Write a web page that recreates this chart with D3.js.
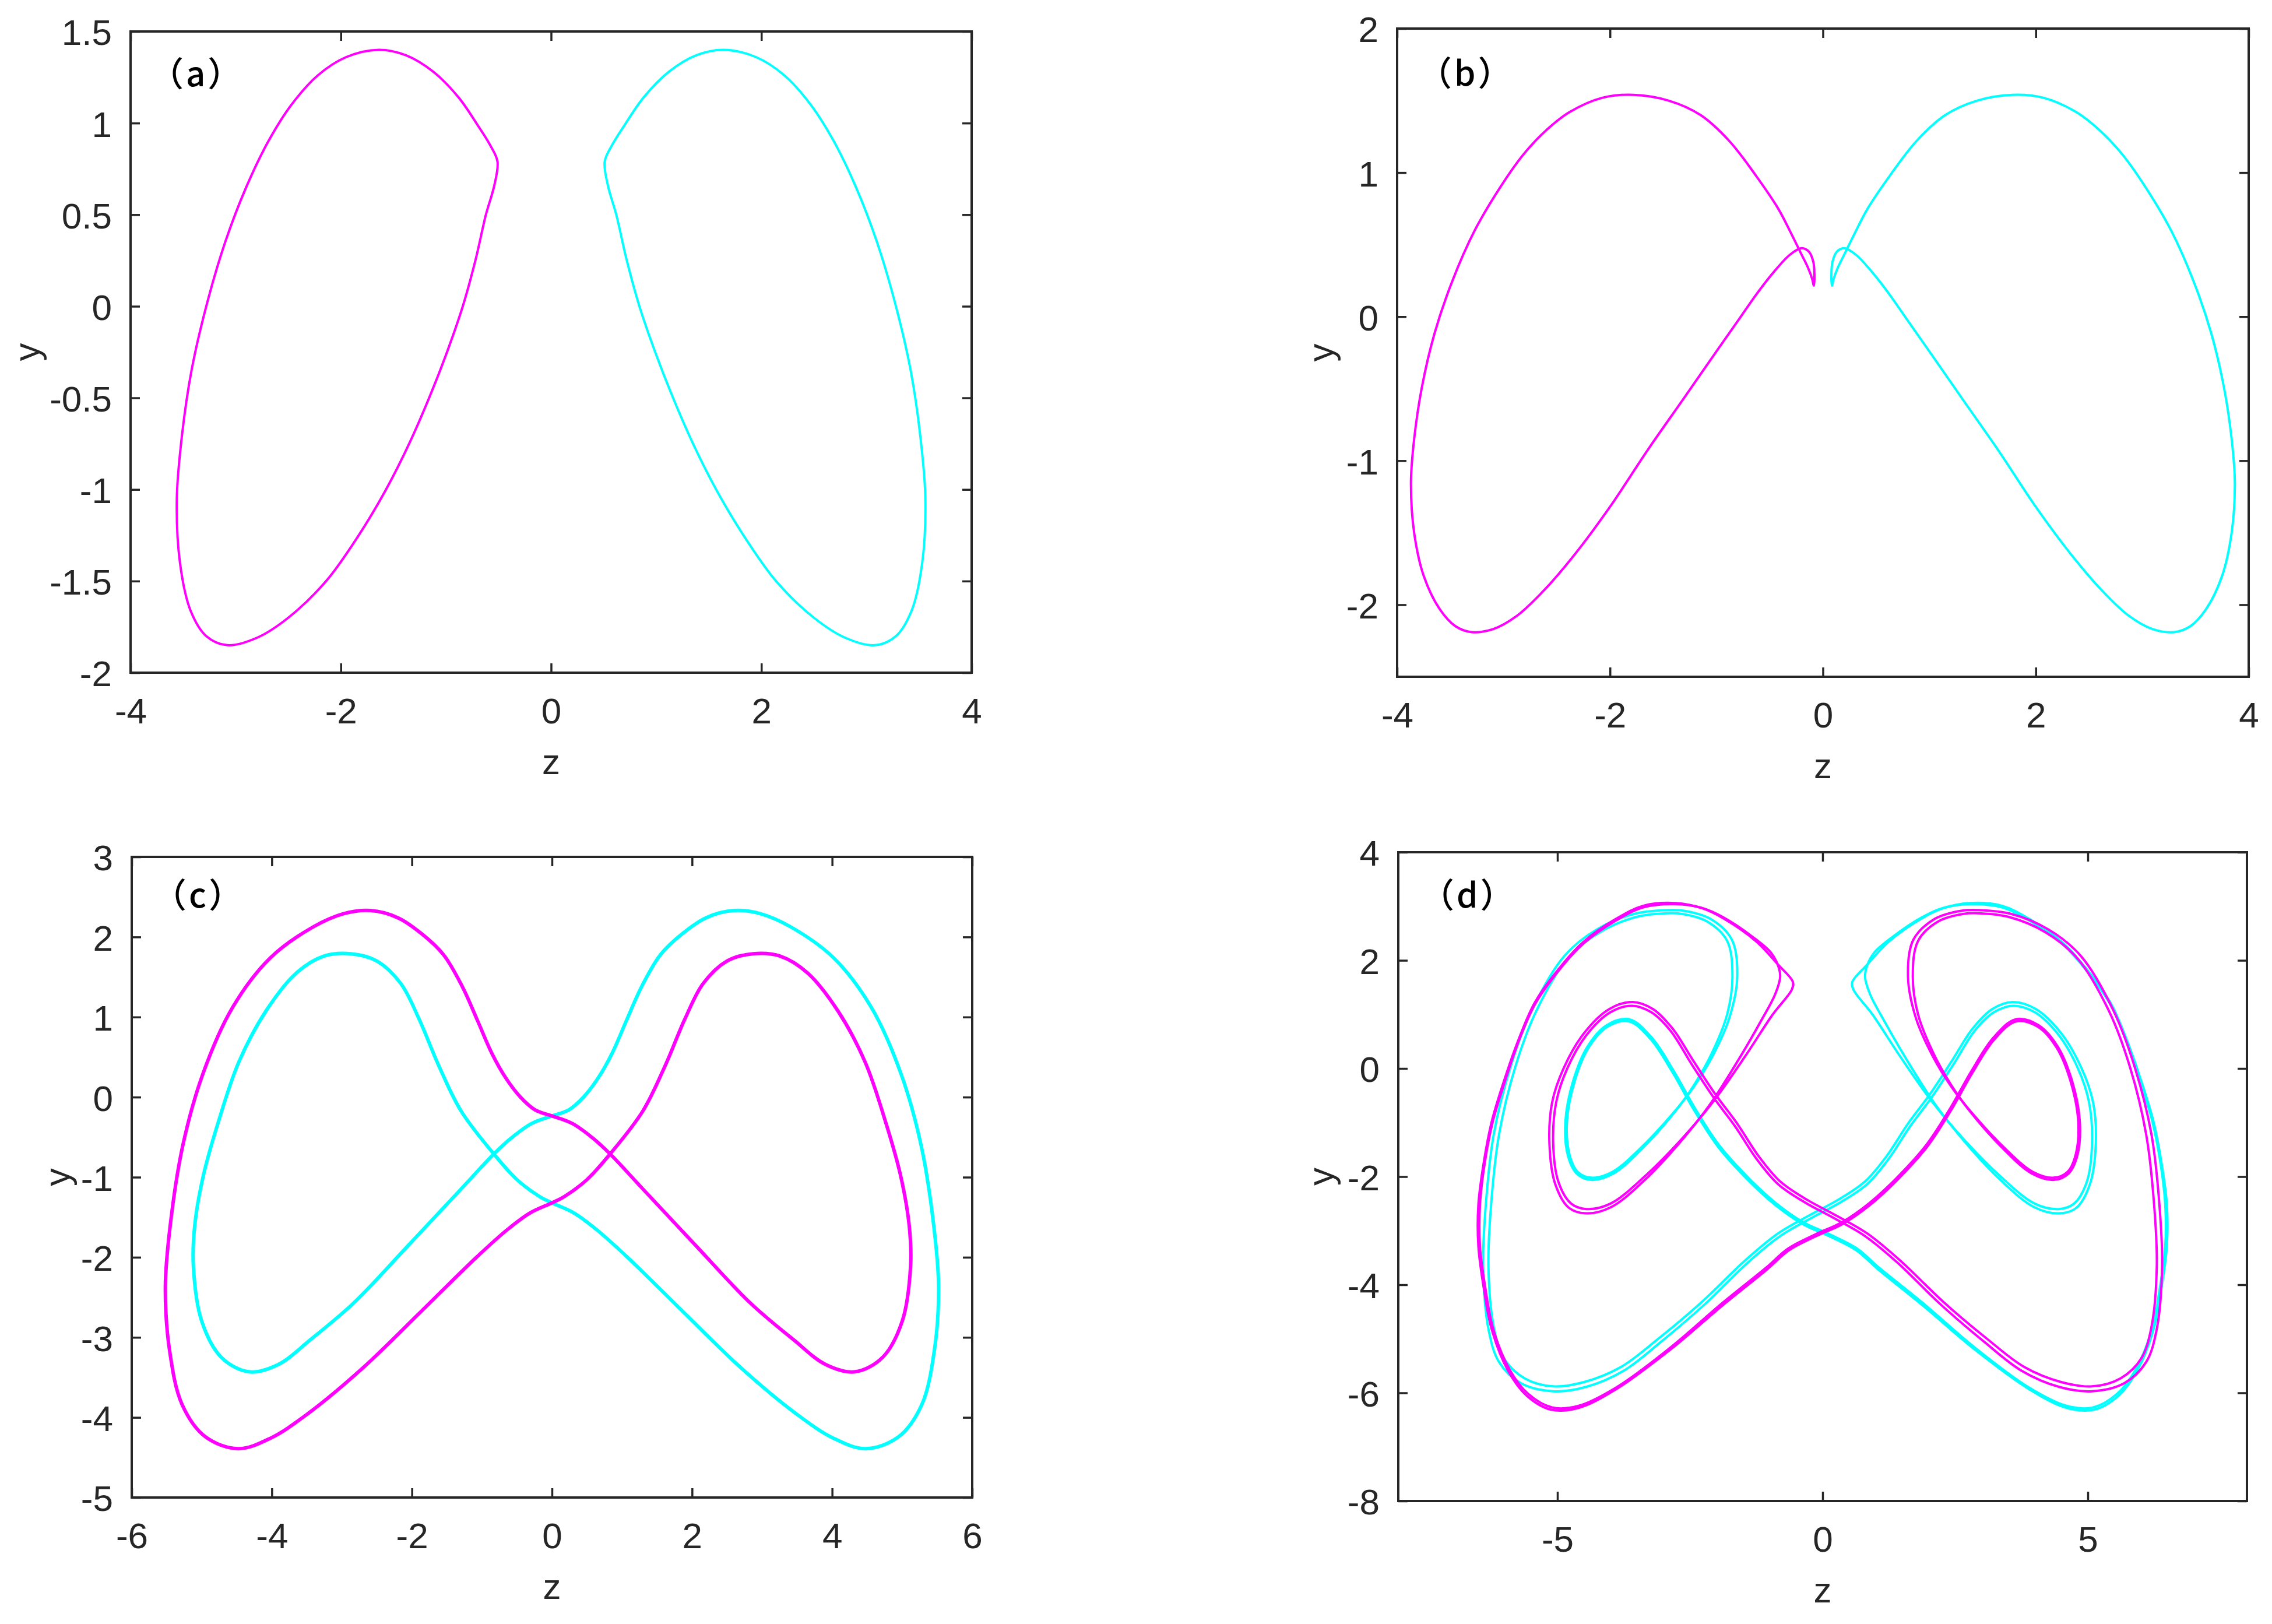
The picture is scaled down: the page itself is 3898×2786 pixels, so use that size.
<!DOCTYPE html>
<html><head><meta charset="utf-8">
<script src="https://cdn.jsdelivr.net/npm/d3@7"></script>
<style>body{margin:0;background:#fff}</style>
</head><body><svg id="c" width="3898" height="2786"></svg>
<script>
// ---------- data (z, y) ----------
const magA = [[-1.64,1.40],[-1.38,1.37],[-1.12,1.28],[-0.88,1.14],[-0.70,0.99],[-0.58,0.88],[-0.51,0.79],[-0.54,0.66],[-0.62,0.50],[-0.72,0.25],[-0.84,0.00],[-0.99,-0.25],[-1.16,-0.50],[-1.35,-0.75],[-1.57,-1.00],[-1.83,-1.25],[-2.14,-1.50],[-2.50,-1.70],[-2.80,-1.81],[-3.08,-1.85],[-3.28,-1.80],[-3.43,-1.66],[-3.53,-1.40],[-3.56,-1.05],[-3.51,-0.70],[-3.42,-0.35],[-3.28,0.00],[-3.10,0.35],[-2.90,0.65],[-2.69,0.90],[-2.47,1.10],[-2.22,1.26],[-1.95,1.36]];
const cyaA = [[1.64,1.40],[1.38,1.37],[1.12,1.28],[0.88,1.14],[0.70,0.99],[0.58,0.88],[0.51,0.79],[0.54,0.66],[0.62,0.50],[0.72,0.25],[0.84,0.00],[0.99,-0.25],[1.16,-0.50],[1.35,-0.75],[1.57,-1.00],[1.83,-1.25],[2.14,-1.50],[2.50,-1.70],[2.80,-1.81],[3.08,-1.85],[3.28,-1.80],[3.43,-1.66],[3.53,-1.40],[3.56,-1.05],[3.51,-0.70],[3.42,-0.35],[3.28,0.00],[3.10,0.35],[2.90,0.65],[2.69,0.90],[2.47,1.10],[2.22,1.26],[1.95,1.36]];

const magB = [[-0.085,0.215],[-0.10,0.26],[-0.14,0.34],[-0.20,0.43],[-0.30,0.58],[-0.42,0.75],[-0.63,0.98],[-0.88,1.22],[-1.15,1.40],[-1.45,1.50],[-1.78,1.54],[-2.07,1.52],[-2.38,1.42],[-2.62,1.28],[-2.82,1.12],[-3.03,0.90],[-3.27,0.60],[-3.48,0.25],[-3.65,-0.12],[-3.77,-0.50],[-3.84,-0.85],[-3.87,-1.15],[-3.84,-1.50],[-3.75,-1.80],[-3.60,-2.03],[-3.45,-2.15],[-3.30,-2.19],[-3.10,-2.17],[-2.88,-2.08],[-2.62,-1.90],[-2.32,-1.64],[-2.00,-1.32],[-1.65,-0.93],[-1.30,-0.56],[-0.99,-0.23],[-0.79,-0.02],[-0.61,0.17],[-0.45,0.32],[-0.31,0.43],[-0.20,0.475],[-0.13,0.45],[-0.09,0.38],[-0.08,0.30]];
const cyaB = [[0.085,0.215],[0.10,0.26],[0.14,0.34],[0.20,0.43],[0.30,0.58],[0.42,0.75],[0.63,0.98],[0.88,1.22],[1.15,1.40],[1.45,1.50],[1.78,1.54],[2.07,1.52],[2.38,1.42],[2.62,1.28],[2.82,1.12],[3.03,0.90],[3.27,0.60],[3.48,0.25],[3.65,-0.12],[3.77,-0.50],[3.84,-0.85],[3.87,-1.15],[3.84,-1.50],[3.75,-1.80],[3.60,-2.03],[3.45,-2.15],[3.30,-2.19],[3.10,-2.17],[2.88,-2.08],[2.62,-1.90],[2.32,-1.64],[2.00,-1.32],[1.65,-0.93],[1.30,-0.56],[0.99,-0.23],[0.79,-0.02],[0.61,0.17],[0.45,0.32],[0.31,0.43],[0.20,0.475],[0.13,0.45],[0.09,0.38],[0.08,0.30]];

const magC = [[-2.59,2.33],[-2.20,2.24],[-1.86,2.04],[-1.55,1.78],[-1.28,1.38],[-1.06,0.95],[-0.86,0.55],[-0.66,0.24],[-0.45,0.00],[-0.24,-0.16],[0,-0.235],[0.29,-0.33],[0.58,-0.51],[0.83,-0.71],[1.29,-1.14],[2.06,-1.86],[2.83,-2.57],[3.45,-3.03],[3.91,-3.34],[4.33,-3.43],[4.72,-3.25],[5.00,-2.80],[5.12,-2.11],[5.10,-1.60],[4.98,-0.99],[4.77,-0.33],[4.47,0.44],[4.08,1.08],[3.65,1.55],[3.26,1.76],[2.87,1.79],[2.50,1.70],[2.16,1.42],[1.90,0.98],[1.62,0.40],[1.30,-0.17],[0.83,-0.71],[0.50,-1.03],[0.18,-1.24],[0,-1.32],[-0.32,-1.45],[-0.63,-1.65],[-1.09,-2.01],[-1.86,-2.67],[-2.71,-3.39],[-3.48,-3.95],[-4.02,-4.26],[-4.48,-4.39],[-4.95,-4.24],[-5.28,-3.84],[-5.46,-3.16],[-5.52,-2.37],[-5.45,-1.60],[-5.27,-0.60],[-4.98,0.30],[-4.56,1.12],[-4.02,1.74],[-3.40,2.13],[-2.98,2.29]];
const cyaC = [[2.59,2.33],[2.20,2.24],[1.86,2.04],[1.55,1.78],[1.28,1.38],[1.06,0.95],[0.86,0.55],[0.66,0.24],[0.45,0.00],[0.24,-0.16],[0,-0.235],[-0.29,-0.33],[-0.58,-0.51],[-0.83,-0.71],[-1.29,-1.14],[-2.06,-1.86],[-2.83,-2.57],[-3.45,-3.03],[-3.91,-3.34],[-4.33,-3.43],[-4.72,-3.25],[-5.00,-2.80],[-5.12,-2.11],[-5.10,-1.60],[-4.98,-0.99],[-4.77,-0.33],[-4.47,0.44],[-4.08,1.08],[-3.65,1.55],[-3.26,1.76],[-2.87,1.79],[-2.50,1.70],[-2.16,1.42],[-1.90,0.98],[-1.62,0.40],[-1.30,-0.17],[-0.83,-0.71],[-0.50,-1.03],[-0.18,-1.24],[0,-1.32],[0.32,-1.45],[0.63,-1.65],[1.09,-2.01],[1.86,-2.67],[2.71,-3.39],[3.48,-3.95],[4.02,-4.26],[4.48,-4.39],[4.95,-4.24],[5.28,-3.84],[5.46,-3.16],[5.52,-2.37],[5.45,-1.60],[5.27,-0.60],[4.98,0.30],[4.56,1.12],[4.02,1.74],[3.40,2.13],[2.98,2.29]];

// panel (d): two passes of each trajectory
const magD1 = [[-0.56,1.60],[-0.84,1.92],[-1.24,2.34],[-1.86,2.77],[-2.26,2.96],[-2.77,3.06],[-3.38,3.01],[-3.89,2.77],[-4.51,2.34],[-4.91,1.92],[-5.42,1.23],[-5.73,0.54],[-6.03,-0.30],[-6.24,-0.99],[-6.39,-1.75],[-6.49,-2.52],[-6.49,-3.29],[-6.39,-4.05],[-6.24,-4.82],[-5.93,-5.59],[-5.58,-6.05],[-5.12,-6.31],[-4.61,-6.28],[-3.89,-5.93],[-2.87,-5.20],[-1.86,-4.36],[-1.04,-3.71],[-0.63,-3.36],[-0.12,-3.10],[0.39,-2.87],[0.90,-2.52],[1.41,-2.06],[1.97,-1.45],[2.43,-0.76],[2.83,-0.07],[3.24,0.54],[3.65,0.87],[4.06,0.77],[4.41,0.39],[4.67,-0.22],[4.82,-0.99],[4.77,-1.60],[4.62,-1.91],[4.36,-2.02],[3.96,-1.91],[3.45,-1.49],[2.83,-0.84],[2.43,-0.34],[2.07,0.24],[1.76,0.93],[1.61,1.69],[1.71,2.38],[2.12,2.77],[2.63,2.92],[2.94,2.93],[3.55,2.86],[4.26,2.57],[4.87,2.08],[5.48,1.08],[5.89,0.01],[6.20,-1.22],[6.35,-2.52],[6.40,-3.67],[6.30,-4.82],[6.10,-5.43],[5.69,-5.82],[5.08,-5.97],[4.46,-5.89],[3.75,-5.59],[3.04,-5.05],[2.22,-4.36],[1.41,-3.59],[0.80,-3.10],[0.18,-2.75],[-0.33,-2.48],[-0.84,-2.14],[-1.24,-1.68],[-1.65,-1.07],[-2.06,-0.53],[-2.47,0.08],[-2.87,0.70],[-3.23,1.04],[-3.59,1.16],[-4.00,1.04],[-4.45,0.62],[-4.81,0.01],[-5.02,-0.61],[-5.08,-1.37],[-4.98,-2.10],[-4.74,-2.50],[-4.45,-2.60],[-4.00,-2.50],[-3.38,-2.02],[-2.67,-1.32],[-2.06,-0.61],[-1.45,0.24],[-0.94,1.00],[-0.58,1.46]];
const magD2 = [[-0.80,1.70],[-0.85,1.93],[-0.98,2.15],[-1.30,2.42],[-1.88,2.80],[-2.28,2.97],[-2.79,3.04],[-3.38,2.98],[-3.89,2.74],[-4.51,2.31],[-4.91,1.89],[-5.41,1.21],[-5.72,0.53],[-6.01,-0.30],[-6.22,-0.99],[-6.37,-1.75],[-6.46,-2.52],[-6.46,-3.29],[-6.36,-4.05],[-6.21,-4.82],[-5.90,-5.57],[-5.55,-6.02],[-5.10,-6.27],[-4.60,-6.24],[-3.89,-5.90],[-2.88,-5.17],[-1.88,-4.33],[-1.06,-3.68],[-0.65,-3.33],[-0.14,-3.07],[0.37,-2.84],[0.88,-2.49],[1.39,-2.03],[1.95,-1.42],[2.41,-0.73],[2.81,-0.04],[3.22,0.57],[3.64,0.91],[4.07,0.80],[4.43,0.41],[4.70,-0.22],[4.85,-0.99],[4.80,-1.62],[4.64,-1.94],[4.36,-2.06],[3.94,-1.94],[3.42,-1.50],[2.80,-0.82],[2.42,-0.30],[2.08,0.30],[1.80,1.00],[1.70,1.70],[1.80,2.36],[2.18,2.72],[2.66,2.86],[2.94,2.87],[3.52,2.80],[4.20,2.52],[4.80,2.04],[5.40,1.06],[5.80,0.01],[6.10,-1.22],[6.25,-2.52],[6.30,-3.67],[6.20,-4.78],[6.01,-5.36],[5.62,-5.73],[5.08,-5.88],[4.50,-5.80],[3.80,-5.52],[3.10,-5.00],[2.28,-4.32],[1.46,-3.55],[0.84,-3.05],[0.22,-2.70],[-0.29,-2.43],[-0.80,-2.09],[-1.20,-1.63],[-1.61,-1.02],[-2.02,-0.48],[-2.43,0.13],[-2.83,0.74],[-3.20,1.10],[-3.58,1.23],[-4.02,1.10],[-4.50,0.65],[-4.88,0.01],[-5.10,-0.63],[-5.15,-1.40],[-5.04,-2.14],[-4.78,-2.58],[-4.45,-2.68],[-3.98,-2.56],[-3.35,-2.06],[-2.70,-1.38],[-2.12,-0.66],[-1.55,0.22],[-1.15,0.90],[-0.90,1.36]];
const cyaD1 = [[0.56,1.60],[0.84,1.92],[1.24,2.34],[1.86,2.77],[2.26,2.96],[2.77,3.06],[3.38,3.01],[3.89,2.77],[4.51,2.34],[4.91,1.92],[5.42,1.23],[5.73,0.54],[6.03,-0.30],[6.24,-0.99],[6.39,-1.75],[6.49,-2.52],[6.49,-3.29],[6.39,-4.05],[6.24,-4.82],[5.93,-5.59],[5.58,-6.05],[5.12,-6.31],[4.61,-6.28],[3.89,-5.93],[2.87,-5.20],[1.86,-4.36],[1.04,-3.71],[0.63,-3.36],[0.12,-3.10],[-0.39,-2.87],[-0.90,-2.52],[-1.41,-2.06],[-1.97,-1.45],[-2.43,-0.76],[-2.83,-0.07],[-3.24,0.54],[-3.65,0.87],[-4.06,0.77],[-4.41,0.39],[-4.67,-0.22],[-4.82,-0.99],[-4.77,-1.60],[-4.62,-1.91],[-4.36,-2.02],[-3.96,-1.91],[-3.45,-1.49],[-2.83,-0.84],[-2.43,-0.34],[-2.07,0.24],[-1.76,0.93],[-1.61,1.69],[-1.71,2.38],[-2.12,2.77],[-2.63,2.92],[-2.94,2.93],[-3.55,2.86],[-4.26,2.57],[-4.87,2.08],[-5.48,1.08],[-5.89,0.01],[-6.20,-1.22],[-6.35,-2.52],[-6.40,-3.67],[-6.30,-4.82],[-6.10,-5.43],[-5.69,-5.82],[-5.08,-5.97],[-4.46,-5.89],[-3.75,-5.59],[-3.04,-5.05],[-2.22,-4.36],[-1.41,-3.59],[-0.80,-3.10],[-0.18,-2.75],[0.33,-2.48],[0.84,-2.14],[1.24,-1.68],[1.65,-1.07],[2.06,-0.53],[2.47,0.08],[2.87,0.70],[3.23,1.04],[3.59,1.16],[4.00,1.04],[4.45,0.62],[4.81,0.01],[5.02,-0.61],[5.08,-1.37],[4.98,-2.10],[4.74,-2.50],[4.45,-2.60],[4.00,-2.50],[3.38,-2.02],[2.67,-1.32],[2.06,-0.61],[1.45,0.24],[0.94,1.00],[0.58,1.46]];
const cyaD2 = [[0.80,1.70],[0.85,1.93],[0.98,2.15],[1.30,2.42],[1.88,2.80],[2.28,2.97],[2.79,3.04],[3.38,2.98],[3.89,2.74],[4.51,2.31],[4.91,1.89],[5.41,1.21],[5.72,0.53],[6.01,-0.30],[6.22,-0.99],[6.37,-1.75],[6.46,-2.52],[6.46,-3.29],[6.36,-4.05],[6.21,-4.82],[5.90,-5.57],[5.55,-6.02],[5.10,-6.27],[4.60,-6.24],[3.89,-5.90],[2.88,-5.17],[1.88,-4.33],[1.06,-3.68],[0.65,-3.33],[0.14,-3.07],[-0.37,-2.84],[-0.88,-2.49],[-1.39,-2.03],[-1.95,-1.42],[-2.41,-0.73],[-2.81,-0.04],[-3.22,0.57],[-3.64,0.91],[-4.07,0.80],[-4.43,0.41],[-4.70,-0.22],[-4.85,-0.99],[-4.80,-1.62],[-4.64,-1.94],[-4.36,-2.06],[-3.94,-1.94],[-3.42,-1.50],[-2.80,-0.82],[-2.42,-0.30],[-2.08,0.30],[-1.80,1.00],[-1.70,1.70],[-1.80,2.36],[-2.18,2.72],[-2.66,2.86],[-2.94,2.87],[-3.52,2.80],[-4.20,2.52],[-4.80,2.04],[-5.40,1.06],[-5.80,0.01],[-6.10,-1.22],[-6.25,-2.52],[-6.30,-3.67],[-6.20,-4.78],[-6.01,-5.36],[-5.62,-5.73],[-5.08,-5.88],[-4.50,-5.80],[-3.80,-5.52],[-3.10,-5.00],[-2.28,-4.32],[-1.46,-3.55],[-0.84,-3.05],[-0.22,-2.70],[0.29,-2.43],[0.80,-2.09],[1.20,-1.63],[1.61,-1.02],[2.02,-0.48],[2.43,0.13],[2.83,0.74],[3.20,1.10],[3.58,1.23],[4.02,1.10],[4.50,0.65],[4.88,0.01],[5.10,-0.63],[5.15,-1.40],[5.04,-2.14],[4.78,-2.58],[4.45,-2.68],[3.98,-2.56],[3.35,-2.06],[2.70,-1.38],[2.12,-0.66],[1.55,0.22],[1.15,0.90],[0.90,1.36]];

// ---------- ticks / labels ----------
const xTicksA = [-4,-2,0,2,4], yTicksA = [-2,-1.5,-1,-0.5,0,0.5,1,1.5];
const xTicksB = [-4,-2,0,2,4], yTicksB = [-2,-1,0,1,2];
const xTicksC = [-6,-4,-2,0,2,4,6], yTicksC = [-5,-4,-3,-2,-1,0,1,2,3];
const xTicksD = [-5,0,5], yTicksD = [-8,-6,-4,-2,0,2,4];
const panelLabels = ["（a）","（b）","（c）","（d）"];
const xLabel = "z", yLabel = "y";

const svg = d3.select("#c");
svg.append("rect").attr("width",3898).attr("height",2786).attr("fill","#fff");
const AX = "#262626", FONT = "'Liberation Sans', Arial, sans-serif";

const panels = [
  {L:224,R:1667,T:54,B:1154, xd:[-4,4], yd:[-2,1.5], xt:xTicksA, yt:yTicksA, mags:[magA], cyas:[cyaA], lab:panelLabels[0], lx:257, ly:148, ylx:57, sw:4},
  {L:2397,R:3858,T:49,B:1161, xd:[-4,4], yd:[-2.5,2], xt:xTicksB, yt:yTicksB, mags:[magB], cyas:[cyaB], lab:panelLabels[1], lx:2433, ly:147, ylx:2277, sw:4},
  {L:226,R:1668,T:1470,B:2569, xd:[-6,6], yd:[-5,3], xt:xTicksC, yt:yTicksC, mags:[magC], cyas:[cyaC], lab:panelLabels[2], lx:262, ly:1557, ylx:109, sw:6},
  {L:2399,R:3855,T:1462,B:2575, xd:[-8,8], yd:[-8,4], xt:xTicksD, yt:yTicksD, mags:[magD1,magD2], cyas:[cyaD1,cyaD2], lab:panelLabels[3], lx:2437, ly:1557, ylx:2277, sw:4}
];

const fmt = d => String(d);

panels.forEach(p => {
  const x = d3.scaleLinear().domain(p.xd).range([p.L,p.R]);
  const y = d3.scaleLinear().domain(p.yd).range([p.B,p.T]);
  const g = svg.append("g");

  const line = d3.line().x(d=>x(d[0])).y(d=>y(d[1])).curve(d3.curveCatmullRomClosed.alpha(0.5));
  p.cyas.forEach(arr => g.append("path").attr("d", line(arr)).attr("fill","none").attr("stroke","#00FFFF").attr("stroke-width",p.sw).attr("stroke-linejoin","round"));
  p.mags.forEach(arr => g.append("path").attr("d", line(arr)).attr("fill","none").attr("stroke","#FF00FF").attr("stroke-width",p.sw).attr("stroke-linejoin","round"));

  const styleAxis = sel => {
    sel.select(".domain").remove();
    sel.selectAll(".tick line").attr("stroke",AX).attr("stroke-width",3.5);
    sel.selectAll("text").attr("fill",AX).attr("font-family",FONT).attr("font-size",62);
  };
  g.append("g").attr("transform",`translate(0,${p.B})`)
    .call(d3.axisBottom(x).tickValues(p.xt).tickSize(-16).tickPadding(43).tickFormat(fmt)).call(styleAxis);
  g.append("g").attr("transform",`translate(0,${p.T})`)
    .call(d3.axisTop(x).tickValues(p.xt).tickSize(-16).tickFormat("")).call(styleAxis);
  g.append("g").attr("transform",`translate(${p.L},0)`)
    .call(d3.axisLeft(y).tickValues(p.yt).tickSize(-16).tickPadding(32).tickFormat(fmt)).call(styleAxis)
    .selectAll("text").attr("dy","0.37em");
  g.append("g").attr("transform",`translate(${p.R},0)`)
    .call(d3.axisRight(y).tickValues(p.yt).tickSize(-16).tickFormat("")).call(styleAxis);

  g.append("rect").attr("x",p.L).attr("y",p.T).attr("width",p.R-p.L).attr("height",p.B-p.T)
    .attr("fill","none").attr("stroke",AX).attr("stroke-width",4);

  g.append("text").attr("x",(p.L+p.R)/2).attr("y",p.B+174).attr("text-anchor","middle")
    .attr("font-family",FONT).attr("font-size",62).attr("fill",AX).text(xLabel);
  g.append("text").attr("transform",`translate(${p.ylx+10},${(p.T+p.B)/2}) rotate(-90)`).attr("text-anchor","middle")
    .attr("font-family",FONT).attr("font-size",62).attr("fill",AX).text(yLabel);

  g.append("text").attr("x",p.lx).attr("y",p.ly).attr("font-family","'Noto Sans CJK SC', sans-serif")
    .attr("font-size",58).attr("font-weight",500).attr("letter-spacing",4).attr("fill","#000").text(p.lab);
});
</script></body></html>
